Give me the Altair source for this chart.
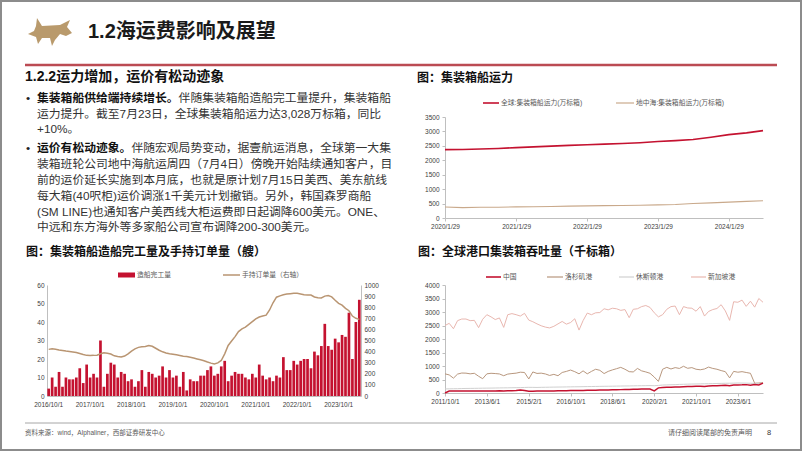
import altair as alt
import pandas as pd

MIX = "Liberation Sans, Noto Sans CJK SC"
LAT = "Liberation Sans"

# ---------------- data ----------------
# 集装箱船运力 (万标箱)
cap_dates = ["2020-01-29", "2020-04-29", "2020-07-29", "2020-10-29", "2021-01-29", "2021-04-29",
             "2021-07-29", "2021-10-29", "2022-01-29", "2022-04-29", "2022-07-29", "2022-10-29",
             "2023-01-29", "2023-04-29", "2023-07-29", "2023-10-29", "2024-01-29", "2024-04-29",
             "2024-07-23"]
cap_global = [2370, 2375, 2390, 2410, 2440, 2465, 2490, 2515, 2540, 2560, 2580, 2610,
              2650, 2680, 2720, 2800, 2890, 2950, 3028]
cap_med = [380, 360, 370, 375, 385, 390, 400, 410, 420, 428, 435, 442,
           455, 470, 500, 525, 550, 575, 600]

# 集装箱船造船完工量 (艘) and 手持订单量 (右轴), monthly from 2016/10
ship_done = [4, 10, 5, 13, 5, 10, 9, 9, 10, 15,
             7, 17, 10, 12, 10, 30, 5, 12, 18, 17,
             10, 13, 12, 8, 9, 5, 8, 14, 5, 13,
             12, 10, 11, 16, 10, 14, 10, 11, 5, 13,
             3, 9, 8, 8, 11, 11, 14, 16, 11, 12,
             16, 19, 8, 11, 13, 12, 12, 10, 9, 12,
             10, 17, 11, 9, 10, 8, 11, 10, 21, 14,
             14, 19, 17, 19, 20, 20, 15, 24, 22, 27,
             39, 27, 25, 31, 29, 33, 32, 45, 20, 40,
             52]
ship_order = [420, 425, 422, 415, 410, 405, 401, 397, 392, 383,
              374, 366, 365, 366, 368, 380, 389, 386, 378, 362,
              356, 352, 360, 380, 405, 425, 438, 443, 446, 455,
              448, 430, 412, 398, 388, 380, 376, 371, 365, 359,
              355, 350, 342, 334, 326, 318, 306, 296, 288, 298,
              320, 380, 455, 495, 535, 580, 605, 620, 645, 670,
              695, 712, 720, 728, 775, 840, 890, 902, 912, 918,
              922, 926, 925, 919, 912, 910, 910, 892, 886, 884,
              900, 905, 893, 862, 835, 818, 790, 768, 720, 700,
              690]

# 全球港口集装箱吞吐量 (千标箱), every two months from 2011/10
port_cn = [0, 70, 72, 75, 70, 74, 72, 76, 70, 75,
           78, 74, 78, 80, 76, 82, 80, 90, 110, 95,
           62, 68, 72, 70, 75, 78, 76, 80, 84, 82,
           88, 90, 92, 95, 98, 100, 104, 108, 110, 114,
           118, 120, 125, 128, 132, 136, 140, 145, 148, 150,
           80, 190, 205, 210, 215, 220, 225, 232, 238, 244,
           248, 250, 245, 258, 265, 272, 280, 286, 270, 292,
           298, 302, 310, 290, 318, 300, 365]
port_la = [710, 670, 550, 700, 740, 735, 710, 730, 620, 530,
           710, 730, 720, 705, 640, 700, 720, 735, 770, 760,
           520, 780, 725, 735, 705, 650, 690, 640, 760, 800,
           850, 790, 710, 820, 710, 800, 880, 840, 720, 800,
           855, 900, 950, 880, 790, 780, 910, 820, 780, 730,
           590, 430, 880, 950, 890, 940, 910, 990, 915, 940,
           880, 860, 890, 960, 910, 880, 830, 790, 560, 800,
           770, 790, 760, 730, 360, 370, 380]
port_hou = [150, 155, 158, 160, 165, 168, 170, 172, 175, 178,
            180, 182, 185, 188, 190, 192, 195, 198, 200, 205,
            210, 208, 205, 210, 212, 215, 218, 220, 222, 225,
            228, 230, 232, 235, 238, 240, 242, 245, 248, 250,
            252, 255, 258, 260, 262, 265, 268, 270, 272, 275,
            270, 280, 295, 300, 305, 310, 318, 322, 328, 332,
            335, 338, 342, 345, 348, 352, 355, 360, 362, 365,
            370, 368, 365, 360, 355, 352, 350]
port_sg = [2500, 2580, 2380, 2680, 2740, 2740, 2680, 2690, 2420, 2730,
           2900, 2820, 2720, 2780, 2430, 2900, 2940, 2900, 2850, 2950,
           2700, 2640, 2560, 2490, 2440, 2410, 2470, 2560, 2650, 2550,
           2610, 2750, 2330, 2680, 2960, 2900, 2970, 2980, 3120, 3080,
           3140, 3120, 3060, 3090, 2790, 3100, 3120, 3200, 3240, 3170,
           2970, 2820, 2900, 3100, 3200, 3220, 2900, 3200, 3150, 3140,
           3030, 3200, 2850, 3020, 3090, 3130, 3270, 3040, 2690, 3380,
           3360, 3440, 3210, 3400, 3180, 3500, 3360]

# ---------------- helpers (decoration placed in page pixels) ----------------
ONE = pd.DataFrame({"k": [0]})


def txt(o, x, y, s, size, color="#333333", weight="normal", font=MIX, align="left"):
    return alt.Chart(ONE).mark_text(
        text=s, font=font, fontSize=size, fontWeight=weight, color=color,
        align=align, baseline="middle"
    ).encode(x=alt.value(x - o[0]), y=alt.value(y - o[1]))


def seg(o, x1, x2, y, color, w):
    return alt.Chart(ONE).mark_rule(color=color, strokeWidth=w).encode(
        x=alt.value(x1 - o[0]), x2=alt.value(x2 - o[0]), y=alt.value(y - o[1]))


def box(o, x1, y1, x2, y2, **kw):
    return alt.Chart(ONE).mark_rect(**kw).encode(
        x=alt.value(x1 - o[0]), x2=alt.value(x2 - o[0]),
        y=alt.value(y1 - o[1]), y2=alt.value(y2 - o[1]))


def DT(y, m, d):
    return alt.DateTime(year=y, month=m, date=d)


AX = dict(labelFont=LAT, labelFontSize=6.5, labelColor="#404040",
          domainColor="#bfbfbf", tickColor="#bfbfbf", grid=False)

RED = "#c41230"
TAN = "#b99572"
LEG = "#595959"

TXT_O = (47, 117)
TOP_O = (441, 117)
BL_O = (47, 286)
BR_O = (441, 286)

# ---------------- text panel (page decoration) ----------------
bull = ("M -0.591 -0.636 L -0.364 -0.273 L 0.455 -0.318 L 0.909 -0.545 L 0.773 -0.227 "
        "L 1.0 0.045 L 0.727 0.182 L 0.455 0.091 L 0.227 0.364 L 0.091 0.636 L 0 0.273 "
        "L -0.364 0.273 L -0.545 0.545 L -0.636 0.227 L -1.0 0.091 L -0.727 -0.045 "
        "L -0.636 -0.273 Z")

o = TXT_O
deco = [
    box(o, 1, 1, 801, 450, fill="transparent", stroke="#8c8c8c", strokeWidth=2),
    alt.Chart(ONE).mark_point(shape=bull, filled=True, size=1936, color="#b99a6c", opacity=1)
    .encode(x=alt.value(50 - o[0]), y=alt.value(32 - o[1])),
    txt(o, 88, 32, "1.2海运费影响及展望", 20, color="#1a1a1a", weight="bold"),
    seg(o, 25, 777, 65, "#bb4b53", 2.5),
    txt(o, 25, 77, "1.2.2运力增加，运价有松动迹象", 14, color="#111111", weight="bold"),
    txt(o, 26, 98, "•", 11.8, color="#222222"),
    txt(o, 37, 98, "集装箱船供给端持续增长。", 11.8, color="#111111", weight="bold"),
    txt(o, 178.6, 98, "伴随集装箱船造船完工量提升，集装箱船", 11.8),
    txt(o, 37, 113.5, "运力提升。截至7月23日，全球集装箱船运力达3,028万标箱，同比", 11.8),
    txt(o, 37, 129, "+10%。", 11.8),
    txt(o, 26, 148, "•", 11.8, color="#222222"),
    txt(o, 37, 148, "运价有松动迹象。", 11.8, color="#111111", weight="bold"),
    txt(o, 131.4, 148, "伴随宏观局势变动，据壹航运消息，全球第一大集", 11.8),
    txt(o, 37, 164, "装箱班轮公司地中海航运周四（7月4日）傍晚开始陆续通知客户，目", 11.8),
    txt(o, 37, 180, "前的运价延长实施到本月底，也就是原计划7月15日美西、美东航线", 11.8),
    txt(o, 37, 196, "每大箱(40呎柜)运价调涨1千美元计划撤销。另外，韩国森罗商船", 11.8),
    txt(o, 37, 212, "(SM LINE)也通知客户美西线大柜运费即日起调降600美元。ONE、", 11.8),
    txt(o, 37, 227, "中远和东方海外等多家船公司宣布调降200-300美元。", 11.8),
    seg(o, 25, 777, 423, "#a6a6a6", 1),
    txt(o, 25, 433, "资料来源：wind，Alphaliner，西部证券研发中心", 6.5, color=LEG),
    txt(o, 752, 433, "请仔细阅读尾部的免责声明", 7, color=LEG, align="right"),
    txt(o, 767, 433, "8", 7.5, color="#333333"),
]
text_panel = alt.layer(*deco).properties(width=314, height=101)

# ---------------- top-right: 集装箱船运力 ----------------
cap_df = pd.DataFrame({"date": pd.to_datetime(cap_dates), "global": cap_global, "med": cap_med})
x_top = alt.X("date:T", title=None,
              scale=alt.Scale(domain=[DT(2020, 1, 29), DT(2024, 7, 23)]),
              axis=alt.Axis(values=[DT(y, 1, 29) for y in range(2020, 2025)],
                            format="%Y/%-m/%-d", labelFlush=False, labelOverlap=False,
                            tickSize=3, labelPadding=2, **AX))


def y_top(f):
    return alt.Y(f"{f}:Q", title=None, scale=alt.Scale(domain=[0, 3500], nice=False),
                 axis=alt.Axis(values=list(range(0, 3501, 500)), format="d",
                               tickSize=3, labelPadding=3, **AX))


o = TOP_O
top_chart = alt.layer(
    alt.Chart(cap_df).mark_line(color="#c9a98b", strokeWidth=1.1).encode(x=x_top, y=y_top("med")),
    alt.Chart(cap_df).mark_line(color=RED, strokeWidth=1.6).encode(x=x_top, y=y_top("global")),
    txt(o, 413, 78, "图：集装箱船运力", 12, color="#111111", weight="bold"),
    seg(o, 479, 495, 103, RED, 1.6),
    txt(o, 497, 103, "全球:集装箱船运力(万标箱)", 6.8, color=LEG),
    seg(o, 612, 630, 103, "#c9a98b", 1.2),
    txt(o, 632, 103, "地中海:集装箱船运力(万标箱)", 6.8, color=LEG),
).properties(width=318, height=101)

# ---------------- bottom-left: 造船完工量 & 手持订单量 ----------------
months = pd.date_range("2016-10-01", periods=len(ship_done), freq="MS")
ship_cat = [f"{d.year}/{d.month}/1" for d in months]
ship_df = pd.DataFrame({"month": ship_cat, "done": ship_done, "order": ship_order})
x_bl = alt.X("month:N", sort=None, title=None,
             scale=alt.Scale(paddingInner=0.22, paddingOuter=0.1),
             axis=alt.Axis(values=ship_cat[::12], labelAngle=0, ticks=False,
                           labelOverlap=False, labelPadding=5, **AX))
o = BL_O
bars = alt.Chart(ship_df).mark_bar(color=RED).encode(
    x=x_bl,
    y=alt.Y("done:Q", title=None, scale=alt.Scale(domain=[0, 60], nice=False),
            axis=alt.Axis(orient="left", values=list(range(0, 61, 10)), format="d",
                          tickSize=0, labelPadding=3, **AX)))
orders = alt.Chart(ship_df).mark_line(color=TAN, strokeWidth=1.5).encode(
    x=x_bl,
    y=alt.Y("order:Q", title=None, scale=alt.Scale(domain=[0, 1000], nice=False),
            axis=alt.Axis(orient="right", values=list(range(0, 1001, 100)), format="d",
                          tickSize=0, labelPadding=3, **AX)))
bl_chart = alt.layer(
    bars, orders,
    txt(o, 26, 253, "图：集装箱船造船完工量及手持订单量（艘）", 12, color="#111111", weight="bold"),
    box(o, 118, 273.5, 135, 278.5, color=RED),
    txt(o, 137, 276, "造船完工量", 6.8, color=LEG),
    seg(o, 223, 240, 276, TAN, 1.5),
    txt(o, 242, 276, "手持订单量（右轴）", 6.8, color=LEG),
).resolve_scale(y="independent").properties(width=314, height=111)

# ---------------- bottom-right: 全球港口集装箱吞吐量 ----------------
pdates = pd.date_range("2011-10-01", periods=len(port_sg), freq="2MS")
port_df = pd.DataFrame({"date": pdates, "cn": port_cn, "la": port_la, "hou": port_hou, "sg": port_sg})
x_br = alt.X("date:T", title=None,
             scale=alt.Scale(domain=[DT(2011, 10, 1), DT(2024, 6, 1)]),
             axis=alt.Axis(values=[DT(2011, 10, 1), DT(2013, 6, 1), DT(2015, 2, 1), DT(2016, 10, 1),
                                   DT(2018, 6, 1), DT(2020, 2, 1), DT(2021, 10, 1), DT(2023, 6, 1)],
                           format="%Y/%-m/%-d", labelFlush=False, labelOverlap=False,
                           tickSize=3, labelPadding=2, **AX))


def y_br(f):
    return alt.Y(f"{f}:Q", title=None, scale=alt.Scale(domain=[0, 4000], nice=False),
                 axis=alt.Axis(values=list(range(0, 4001, 500)), format="d",
                               tickSize=3, labelPadding=3, **AX))


SG = "#e9b7b0"
LA = "#b8977e"
HOU = "#d0d0d0"
o = BR_O
br_chart = alt.layer(
    alt.Chart(port_df).mark_line(color=SG, strokeWidth=1).encode(x=x_br, y=y_br("sg")),
    alt.Chart(port_df).mark_line(color=LA, strokeWidth=1).encode(x=x_br, y=y_br("la")),
    alt.Chart(port_df).mark_line(color=HOU, strokeWidth=1).encode(x=x_br, y=y_br("hou")),
    alt.Chart(port_df).mark_line(color=RED, strokeWidth=1.5).encode(x=x_br, y=y_br("cn")),
    txt(o, 414, 253, "图：全球港口集装箱吞吐量（千标箱）", 12, color="#111111", weight="bold"),
    seg(o, 482, 497, 278, RED, 1.6),
    txt(o, 499, 278, "中国", 6.8, color=LEG),
    seg(o, 543, 559, 278, LA, 1.2),
    txt(o, 561, 278, "洛杉矶港", 6.8, color=LEG),
    seg(o, 615, 630, 278, HOU, 1.2),
    txt(o, 632, 278, "休斯顿港", 6.8, color=LEG),
    seg(o, 687, 702, 278, SG, 1.2),
    txt(o, 704, 278, "新加坡港", 6.8, color=LEG),
).properties(width=318, height=108)

chart = alt.concat(
    text_panel, top_chart, bl_chart, br_chart,
    columns=2, bounds="flush", align="all",
    spacing={"row": 57, "column": 80},
).properties(
    padding=0, background="white"
).configure_view(strokeWidth=0)

chart.save("out.html", embed_options={"renderer": "svg", "actions": False})
